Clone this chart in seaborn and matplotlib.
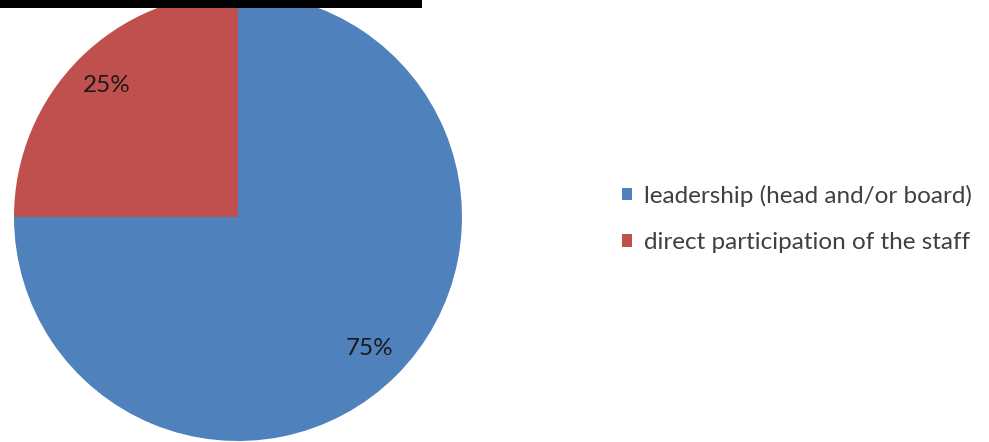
import matplotlib
matplotlib.use("Agg")
import matplotlib.pyplot as plt
from matplotlib.patches import Patch, Rectangle
import seaborn as sns

categories = ["leadership (head and/or board)", "direct participation of the staff"]
shares = [75, 25]
colors = ["#4F81BD", "#C0504D"]

sns.set_theme(style="white")
plt.rcParams["font.family"] = ["Lato", "DejaVu Sans"]

W, H = 989, 442
fig = plt.figure(figsize=(W / 100, H / 100), dpi=100)

# pie square: 448 px wide, centred at (238, 217) in pixel coordinates
r = 224
cx, cy = 238, 217
ax = fig.add_axes([(cx - r) / W, (H - cy - r) / H, 2 * r / W, 2 * r / H])
wedges, texts, autotexts = ax.pie(
    shares,
    colors=colors,
    startangle=90,
    counterclock=False,
    radius=1.0,
    autopct="%d%%",
    pctdistance=0.83,
    textprops=dict(fontsize=17.5, color="#1a1a1a"),
    wedgeprops=dict(linewidth=0),
)
ax.set_xlim(-1, 1)
ax.set_ylim(-1, 1)
ax.set_aspect("equal")
ax.axis("off")

handles = [Patch(facecolor=c, edgecolor="none") for c in colors]
fig.legend(
    handles,
    categories,
    loc="center left",
    bbox_to_anchor=(622 / W, 1 - 219 / H),
    frameon=False,
    fontsize=17.5,
    handlelength=0.42,
    handleheight=0.42,
    handletextpad=0.5,
    labelspacing=1.05,
    borderpad=0,
    borderaxespad=0,
    labelcolor="#404040",
)

# black strip along the top edge
fig.patches.append(
    Rectangle((0, 1 - 8 / H), 422 / W, 8 / H, transform=fig.transFigure,
              facecolor="black", edgecolor="none", zorder=10)
)

fig.savefig("out.png", dpi=100)
